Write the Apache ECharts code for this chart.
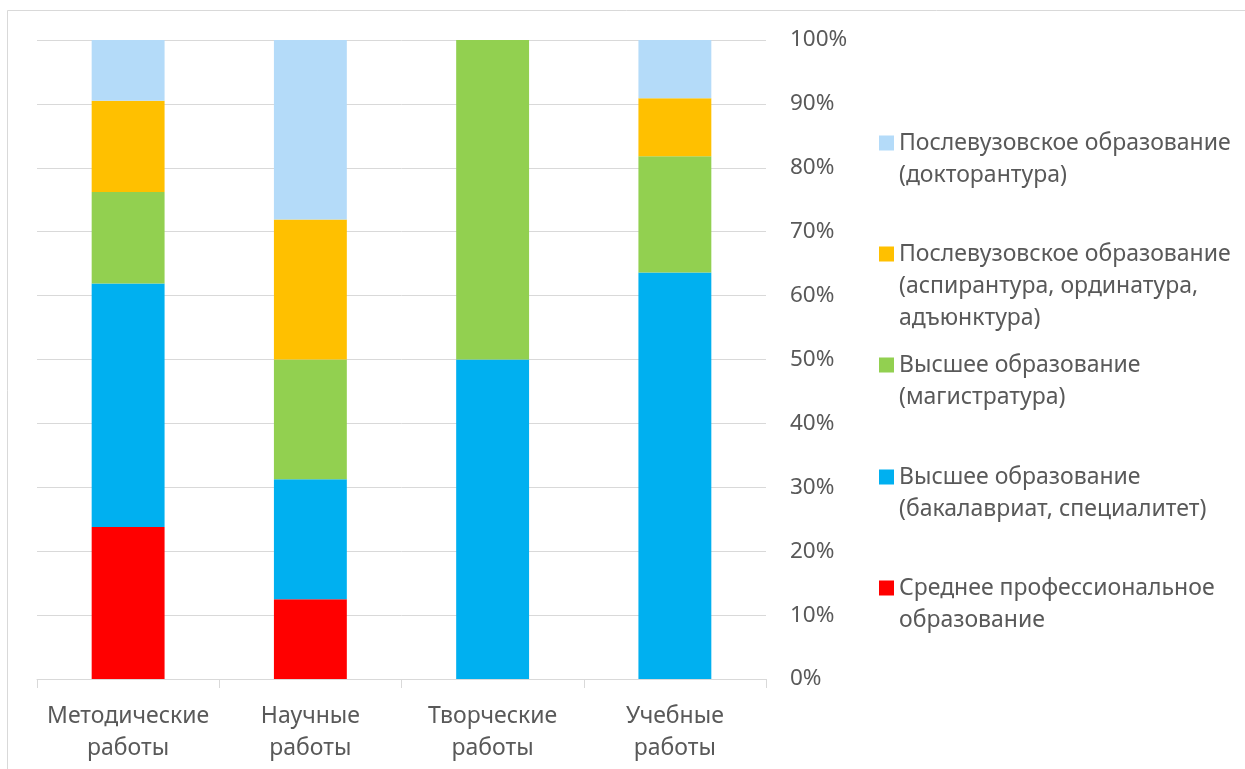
<!DOCTYPE html>
<html>
<head>
<meta charset="utf-8">
<script src="https://cdn.jsdelivr.net/npm/echarts@6/dist/echarts.min.js"></script>
<style>
html,body{margin:0;padding:0;background:#fff;}
#chart{width:1245px;height:769px;}
</style>
</head>
<body>
<div id="chart"></div>
<script>
const categories = ['Методические\nработы', 'Научные\nработы', 'Творческие\nработы', 'Учебные\nработы'];
const yTicks = ['0%','10%','20%','30%','40%','50%','60%','70%','80%','90%','100%'];
const seriesNames = [
  'Среднее профессиональное\nобразование',
  'Высшее образование\n(бакалавриат, специалитет)',
  'Высшее образование\n(магистратура)',
  'Послевузовское образование\n(аспирантура, ординатура,\nадъюнктура)',
  'Послевузовское образование\n(докторантура)'
];
const spo = [23.8, 12.5, null, null];
const bachelor = [38.1, 18.75, 50, 63.6];
const master = [14.3, 18.75, 50, 18.2];
const postgrad = [14.3, 21.9, null, 9.1];
const doctoral = [9.5, 28.1, null, 9.1];
const seriesColors = ['#ff0000', '#00b0f0', '#92d050', '#ffc000', '#b4dbf9'];
const seriesData = [spo, bachelor, master, postgrad, doctoral];

const FONT = 'Noto Sans';
const TXT = '#595959';
const GRID = '#d9d9d9';
const LH = 32;

// legend entries top-to-bottom: doctoral, postgrad, master, bachelor, spo
const legendOrder = [4, 3, 2, 1, 0];
const legendFirstLine = [143, 254, 365, 477, 588];
const legends = legendOrder.map((si, k) => {
  const n = seriesNames[si].split('\n').length;
  const H = (n - 1) * LH + 15;
  return {
    orient: 'vertical',
    left: 879,
    top: legendFirstLine[k] - 16,
    padding: 0,
    data: [seriesNames[si]],
    itemWidth: 15,
    itemHeight: H,
    icon: 'path://M0,0H15V15H0Z M0,' + H + 'L0.01,' + H,
    itemStyle: {borderWidth: 0},
    textStyle: {fontFamily: FONT, fontSize: 23, lineHeight: LH, color: TXT},
    selectedMode: false
  };
});

const chart = echarts.init(document.getElementById('chart'), null, {renderer: 'canvas'});
chart.setOption({
  backgroundColor: '#fff',
  animation: false,
  graphic: [{
    type: 'rect',
    shape: {x: 7.5, y: 10.5, width: 1400, height: 900},
    style: {fill: 'none', stroke: GRID, lineWidth: 1},
    silent: true,
    z: -10
  }],
  legend: legends,
  grid: {left: 37, right: 479, top: 40, bottom: 90},
  xAxis: {
    type: 'category',
    data: categories,
    axisLine: {lineStyle: {color: GRID, width: 1}},
    axisTick: {show: true, length: 9, lineStyle: {color: GRID}},
    axisLabel: {fontFamily: FONT, fontSize: 23, lineHeight: LH, color: TXT, margin: 21, interval: 0}
  },
  yAxis: {
    type: 'value',
    position: 'right',
    min: 0, max: 100, interval: 10,
    axisLine: {show: false},
    axisTick: {show: false},
    splitLine: {lineStyle: {color: GRID, width: 1}},
    axisLabel: {
      fontFamily: FONT, fontSize: 22.5, color: TXT, margin: 24, padding: [6, 0, 0, 0],
      formatter: v => yTicks[Math.round(v / 10)]
    }
  },
  series: seriesData.map((d, i) => ({
    name: seriesNames[i],
    type: 'bar',
    stack: 'total',
    barWidth: '40%',
    data: d,
    itemStyle: {color: seriesColors[i]}
  }))
});
</script>
</body>
</html>
